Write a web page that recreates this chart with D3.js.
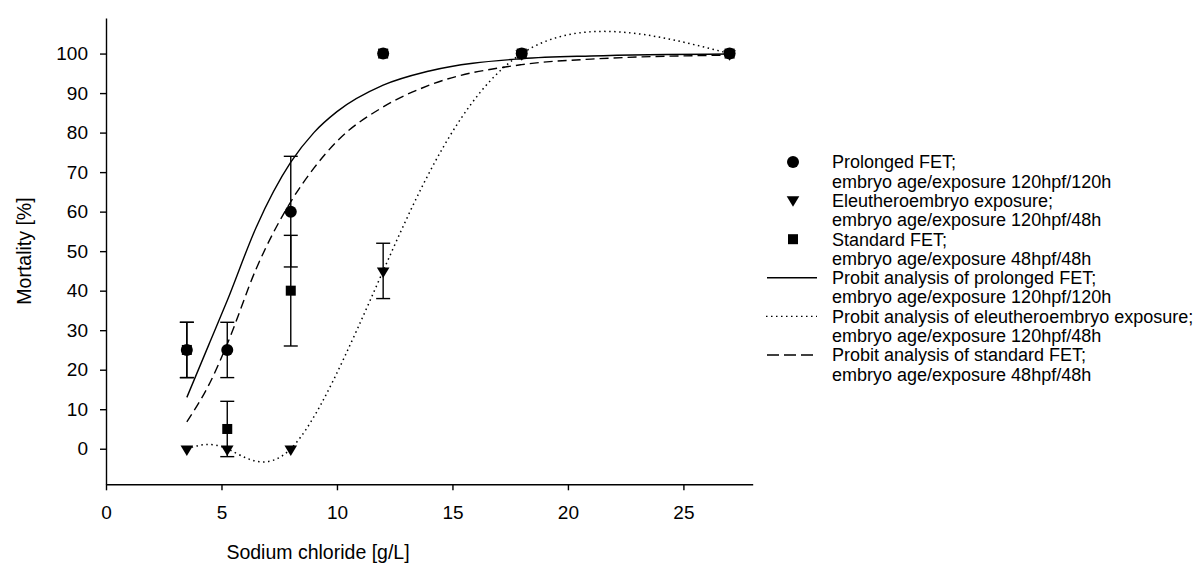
<!DOCTYPE html>
<html>
<head>
<meta charset="utf-8">
<script src="https://cdn.jsdelivr.net/npm/d3@7/dist/d3.min.js"></script>
<style>
  html, body { margin: 0; padding: 0; background: #fff; }
  svg { display: block; font-family: "Liberation Sans", Arial, Helvetica, sans-serif; }
</style>
</head>
<body>
<svg id="chart" width="1199" height="566"></svg>
<script>
// ---- data ----
const concentrations = [3.5, 5.25, 8, 12, 18, 27];
const prolongedMortality = [25, 25, 60, 100, 100, 100];
const prolongedError = [7, 7, 14, 0, 0, 0];
const eleutheroMortality = [0, 0, 0, 45, 100, 100];
const eleutheroError = [0, 0, 0, 7, 0, 0];
const standardMortality = [25, 5, 40, 100, 100, 100];
const standardError = [7, 7, 14, 0, 0, 0];

// probit fit curves
const fitX = [3.5, 4.5, 5.25, 6.5, 8, 9, 10, 12, 14, 18, 21, 27];
const probitProlonged = [13, 27, 37.5, 56, 72.5, 80, 85.3, 92, 95.6, 98.7, 99.4, 99.9];
const probitStandard = [6.8, 16.7, 26.5, 45.5, 62.5, 71, 77.8, 86.5, 92, 97.2, 98.6, 99.6];

const xTicks = [0, 5, 10, 15, 20, 25];
const yTicks = [0, 10, 20, 30, 40, 50, 60, 70, 80, 90, 100];

const legendLabels = [
  ["Prolonged FET;", "embryo age/exposure 120hpf/120h"],
  ["Eleutheroembryo exposure;", "embryo age/exposure 120hpf/48h"],
  ["Standard FET;", "embryo age/exposure 48hpf/48h"],
  ["Probit analysis of prolonged FET;", "embryo age/exposure 120hpf/120h"],
  ["Probit analysis of eleutheroembryo exposure;", "embryo age/exposure 120hpf/48h"],
  ["Probit analysis of standard FET;", "embryo age/exposure 48hpf/48h"]
];

// ---- drawing ----
const svg = d3.select("#chart");
const x = d3.scaleLinear().domain([0, 28]).range([106, 752.7]);
const y = d3.scaleLinear().domain([-9, 109]).range([484.3, 18]);

const tickFont = 19;

// axes
const yAxis = d3.axisLeft(y).tickValues(yTicks).tickSize(6).tickSizeOuter(0).tickPadding(12);
const gy = svg.append("g").attr("transform", `translate(${x(0)},0)`).call(yAxis);
const xAxis = d3.axisBottom(x).tickValues(xTicks).tickSize(6).tickSizeOuter(0).tickPadding(15);
const gx = svg.append("g").attr("transform", `translate(0,${y(-9)})`).call(xAxis);
[gx, gy].forEach(g => {
  g.selectAll("path.domain").attr("stroke", "#000").attr("stroke-width", 1.4);
  g.selectAll(".tick line").attr("stroke", "#000").attr("stroke-width", 1.4);
  g.selectAll(".tick text").attr("fill", "#000").style("font-size", tickFont + "px")
    .style("font-family", '"Liberation Sans", Arial, sans-serif');
});

// axis titles
svg.append("text").attr("x", 318).attr("y", 559).attr("text-anchor", "middle")
  .style("font-size", "19.5px").text("Sodium chloride [g/L]");
svg.append("text").attr("transform", `translate(31,251) rotate(-90)`).attr("text-anchor", "middle")
  .style("font-size", "19.5px").text("Mortality [%]");

// fit curves
const lineFit = d3.line().x(d => x(d[0])).y(d => y(d[1])).curve(d3.curveMonotoneX);
svg.append("path").datum(fitX.map((c, i) => [c, probitProlonged[i]]))
  .attr("d", lineFit).attr("fill", "none").attr("stroke", "#000").attr("stroke-width", 1.4);
svg.append("path").datum(fitX.map((c, i) => [c, probitStandard[i]]))
  .attr("d", lineFit).attr("fill", "none").attr("stroke", "#000").attr("stroke-width", 1.4)
  .attr("stroke-dasharray", "9,5");
const lineNat = d3.line().x(d => x(d[0])).y(d => y(d[1])).curve(d3.curveNatural);
svg.append("path").datum(concentrations.map((c, i) => [c, eleutheroMortality[i]]))
  .attr("d", lineNat).attr("fill", "none").attr("stroke", "#000").attr("stroke-width", 1.5)
  .attr("stroke-dasharray", "1.5,3.5");

// error bars
function errorBars(vals, errs) {
  const g = svg.append("g").attr("stroke", "#000").attr("stroke-width", 1.4);
  concentrations.forEach((c, i) => {
    if (!errs[i]) return;
    const cx = x(c), lo = y(vals[i] - errs[i]), hi = y(vals[i] + errs[i]);
    g.append("line").attr("x1", cx).attr("x2", cx).attr("y1", lo).attr("y2", hi);
    g.append("line").attr("x1", cx - 7).attr("x2", cx + 7).attr("y1", lo).attr("y2", lo);
    g.append("line").attr("x1", cx - 7).attr("x2", cx + 7).attr("y1", hi).attr("y2", hi);
  });
}
errorBars(prolongedMortality, prolongedError);
errorBars(standardMortality, standardError);
errorBars(eleutheroMortality, eleutheroError);

// markers
const triPath = "M-6.3,-3.3 L6.3,-3.3 L0,7.2 Z";
function drawMarker(g, type, cx, cy) {
  if (type === "circle") g.append("circle").attr("cx", cx).attr("cy", cy).attr("r", 6).attr("fill", "#000");
  else if (type === "square") g.append("rect").attr("x", cx - 5).attr("y", cy - 5).attr("width", 10).attr("height", 10).attr("fill", "#000");
  else g.append("path").attr("d", triPath).attr("transform", `translate(${cx},${cy})`).attr("fill", "#000");
}
const mk = svg.append("g");
concentrations.forEach((c, i) => drawMarker(mk, "tri", x(c), y(eleutheroMortality[i])));
concentrations.forEach((c, i) => drawMarker(mk, "square", x(c), y(standardMortality[i])));
concentrations.forEach((c, i) => drawMarker(mk, "circle", x(c), y(prolongedMortality[i])));

// legend
const legendFont = 18;
const lg = svg.append("g");
const row0 = 162, rowStep = 19.3, textX = 832, symX = 793;
legendLabels.forEach((lab, i) => {
  const r1 = row0 + i * 2 * rowStep;
  lab.forEach((t, j) => {
    lg.append("text").attr("x", textX).attr("y", r1 + j * rowStep).attr("dy", "0.35em")
      .style("font-size", legendFont + "px").text(t);
  });
  if (i === 0) drawMarker(lg, "circle", symX, r1);
  if (i === 1) drawMarker(lg, "tri", symX, r1 - 1);
  if (i === 2) drawMarker(lg, "square", symX, r1);
  if (i >= 3) {
    const ln = lg.append("line").attr("x1", 767).attr("x2", 817).attr("y1", r1).attr("y2", r1)
      .attr("stroke", "#000").attr("stroke-width", 1.4);
    if (i === 4) ln.attr("stroke-dasharray", "1.5,3.5").attr("x1", 766);
    if (i === 5) ln.attr("stroke-dasharray", "12,5");
  }
});
</script>
</body>
</html>
